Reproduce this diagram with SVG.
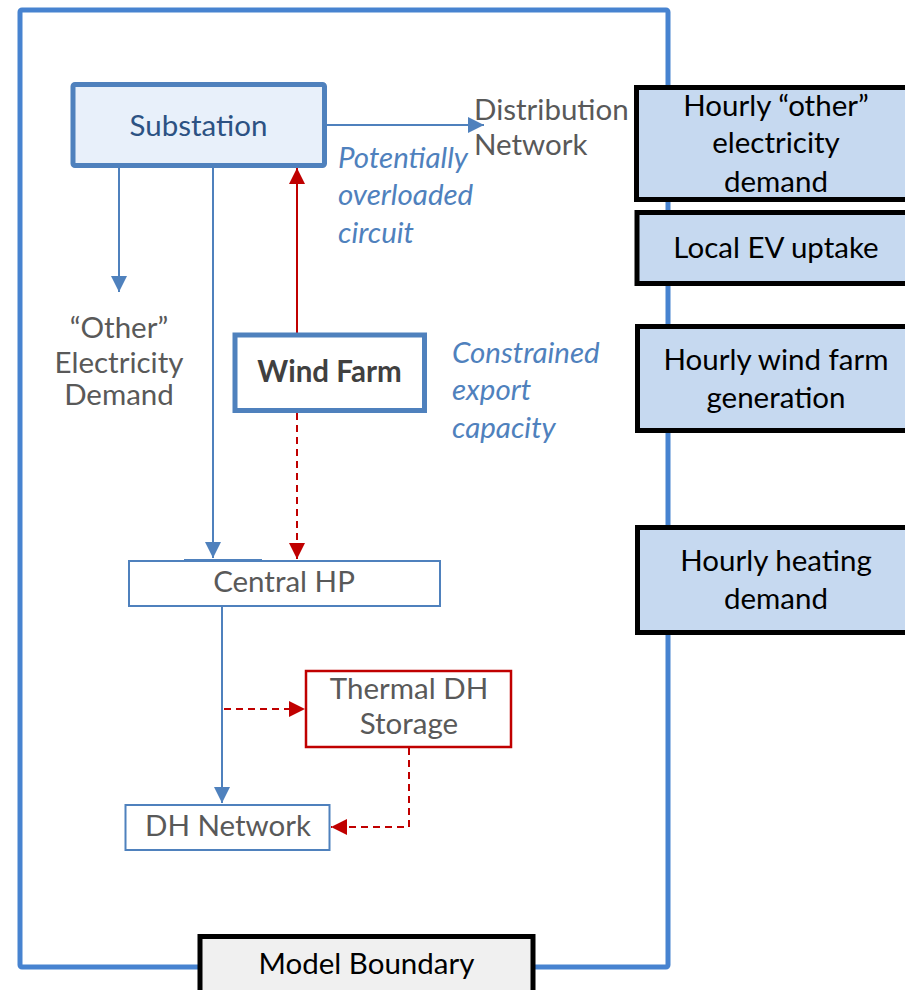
<svg xmlns="http://www.w3.org/2000/svg" width="905" height="990" viewBox="0 0 905 990">
  <style>
    text { font-family: Lato, "Liberation Sans", sans-serif; font-size: 29.5px; }
    .grey { fill: #595959; }
    .dark { fill: #000000; }
    .note { fill: #4f81bd; font-style: italic; }
    .mid { text-anchor: middle; }
    .blueline { stroke: #4f81bd; stroke-width: 2; fill: none; }
    .redline { stroke: #c00000; stroke-width: 2; fill: none; }
    .dash { stroke-dasharray: 7 5; }
    .input { fill: #c6d9f0; stroke: #000000; stroke-width: 5; }
  </style>
  <defs>
    <marker id="arrBlue" viewBox="0 0 10 10" refX="10" refY="5" markerWidth="8" markerHeight="8" orient="auto" markerUnits="strokeWidth">
      <path d="M0,0 L10,5 L0,10 z" fill="#4f81bd"/>
    </marker>
    <marker id="arrRed" viewBox="0 0 10 10" refX="10" refY="5" markerWidth="8" markerHeight="8" orient="auto" markerUnits="strokeWidth">
      <path d="M0,0 L10,5 L0,10 z" fill="#c00000"/>
    </marker>
  </defs>

  <!-- model boundary frame -->
  <rect x="20" y="10" width="648" height="957" rx="2" fill="#ffffff" stroke="#4783d0" stroke-width="5"/>

  <!-- connectors -->
  <g id="connectors">
    <line class="blueline" x1="327" y1="125" x2="484" y2="125" marker-end="url(#arrBlue)"/>
    <line class="blueline" x1="119" y1="168" x2="119" y2="292" marker-end="url(#arrBlue)"/>
    <line class="blueline" x1="213" y1="168" x2="213" y2="558" marker-end="url(#arrBlue)"/>
    <line class="redline" x1="297" y1="333" x2="297" y2="168" marker-end="url(#arrRed)"/>
    <line class="redline dash" x1="297" y1="413" x2="297" y2="559" marker-end="url(#arrRed)"/>
    <line class="blueline" x1="222" y1="607" x2="222" y2="803" marker-end="url(#arrBlue)"/>
    <line class="redline dash" x1="224" y1="709" x2="305" y2="709" marker-end="url(#arrRed)"/>
    <polyline class="redline dash" points="409,748 409,827 331,827" marker-end="url(#arrRed)"/>
  </g>

  <!-- network nodes -->
  <g id="substation">
    <rect x="73" y="84.5" width="251.5" height="81" rx="2" fill="#e8f0fa" stroke="#4f81bd" stroke-width="5"/>
    <text x="198.5" y="136" class="mid" fill="#2c5283">Substation</text>
  </g>

  <g id="distribution-network">
    <text x="474" y="120" class="grey">Distribution</text>
    <text x="474" y="155" class="grey">Network</text>
  </g>

  <g id="overload-note">
    <text x="338" y="168" class="note">Potentially</text>
    <text x="338" y="205" class="note">overloaded</text>
    <text x="338" y="243" class="note">circuit</text>
  </g>

  <g id="other-demand">
    <text x="119" y="338" class="grey mid">“Other”</text>
    <text x="119" y="373" class="grey mid">Electricity</text>
    <text x="119" y="405" class="grey mid">Demand</text>
  </g>

  <g id="wind-farm">
    <rect x="235" y="335" width="189.5" height="75.5" fill="#ffffff" stroke="#4f81bd" stroke-width="5"/>
    <text x="329.5" y="382" class="mid" fill="#404040" font-weight="bold">Wind Farm</text>
  </g>

  <g id="export-note">
    <text x="452" y="363" class="note">Constrained</text>
    <text x="452" y="400" class="note">export</text>
    <text x="452" y="438" class="note">capacity</text>
  </g>

  <g id="central-hp">
    <rect x="129" y="561" width="311" height="45" fill="#ffffff" stroke="#4f81bd" stroke-width="2"/>
    <line x1="184" y1="560" x2="262" y2="560" stroke="#4f81bd" stroke-width="2"/>
    <text x="284" y="592" class="grey mid">Central HP</text>
  </g>

  <g id="thermal-storage">
    <rect x="306" y="671" width="205" height="76" fill="#ffffff" stroke="#c00000" stroke-width="2.5"/>
    <text x="409" y="699" class="grey mid">Thermal DH</text>
    <text x="409" y="734" class="grey mid">Storage</text>
  </g>

  <g id="dh-network">
    <rect x="125.5" y="805" width="204" height="45" fill="#ffffff" stroke="#4f81bd" stroke-width="2"/>
    <text x="228" y="836" class="grey mid">DH Network</text>
  </g>

  <!-- input data boxes -->
  <g id="input-other-demand">
    <rect x="636.5" y="87.5" width="280" height="112" class="input"/>
    <text x="776" y="116" class="dark mid">Hourly “other”</text>
    <text x="776" y="153" class="dark mid">electricity</text>
    <text x="776" y="192" class="dark mid">demand</text>
  </g>

  <g id="input-ev">
    <rect x="637" y="212.5" width="280" height="71" class="input"/>
    <text x="776" y="258" class="dark mid">Local EV uptake</text>
  </g>

  <g id="input-wind">
    <rect x="637.5" y="326.5" width="280" height="104" class="input"/>
    <text x="776" y="370" class="dark mid">Hourly wind farm</text>
    <text x="776" y="408" class="dark mid">generation</text>
  </g>

  <g id="input-heating">
    <rect x="637.5" y="527.5" width="280" height="105" class="input"/>
    <text x="776" y="571" class="dark mid">Hourly heating</text>
    <text x="776" y="609" class="dark mid">demand</text>
  </g>

  <g id="model-boundary-label">
    <rect x="200" y="936.5" width="333" height="70" fill="#f0f0f0" stroke="#000000" stroke-width="5"/>
    <text x="366.5" y="974" class="dark mid">Model Boundary</text>
  </g>
</svg>
